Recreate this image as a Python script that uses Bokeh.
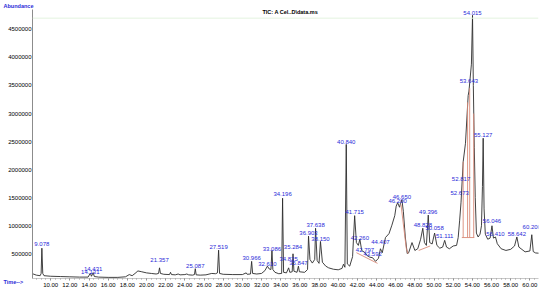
from bokeh.plotting import figure
from bokeh.models import Label, Span, Title, FixedTicker, PrintfTickFormatter, NumeralTickFormatter
from bokeh.core.properties import value
from bokeh.embed import file_html
from bokeh.resources import INLINE

# ---- chromatogram trace (retention time in min, abundance) ----
time_min = [8.10, 8.5, 8.9, 9.0, 9.078, 9.17, 9.3, 10.0, 11.0, 12.0, 13.0, 13.9,
            14.131, 14.25, 14.431, 14.55, 15.0, 16.0, 17.0, 17.8, 18.2, 18.5, 18.8,
            19.1, 19.5, 20.0, 20.5, 21.0, 21.25, 21.357, 21.45, 21.8, 22.4, 22.5,
            22.6, 23.0, 23.3, 23.5, 24.0, 24.2, 24.4, 24.8, 25.0, 25.087, 25.18,
            25.6, 26.2, 26.8, 27.2, 27.4, 27.519, 27.62, 28.0, 29.0, 30.0, 30.4,
            30.5, 30.85, 30.966, 31.07, 31.5, 32.0, 32.35, 32.61, 32.8, 32.98,
            33.086, 33.18, 33.4, 33.8, 34.1, 34.196, 34.3, 34.6, 34.825, 34.95,
            35.2, 35.284, 35.38, 35.7, 35.847, 35.95, 36.5, 36.8, 36.903, 37.05,
            37.3, 37.55, 37.638, 37.8, 38.0, 38.15, 38.35, 38.7, 39.0, 39.5, 40.0,
            40.4, 40.55, 40.7, 40.84, 40.95, 41.2, 41.5, 41.715, 41.9, 42.1, 42.26,
            42.45, 42.797, 43.0, 43.3, 43.592, 43.9, 44.2, 44.407, 44.6, 44.93,
            45.3, 45.6, 45.9, 46.05, 46.2, 46.4, 46.5, 46.65, 46.8, 47.0, 47.2,
            47.35, 47.7, 48.0, 48.3, 48.6, 48.828, 49.0, 49.2, 49.396, 49.55,
            49.8, 50.058, 50.3, 50.6, 50.9, 51.111, 51.3, 51.6, 52.0, 52.35, 52.52,
            52.673, 52.817, 53.04, 53.28, 53.56, 53.643, 53.9, 54.015, 54.1, 54.2,
            54.3, 54.42, 54.6, 54.8, 54.95, 55.05, 55.127, 55.22, 55.35, 55.6,
            55.85, 56.046, 56.2, 56.41, 56.6, 57.0, 57.5, 58.0, 58.4, 58.642,
            58.85, 59.5, 60.0, 60.2, 60.35, 60.6, 61.0]
abundance = [145000, 120000, 110000, 150000, 600000, 150000, 110000, 100000, 95000,
             90000, 85000, 85000, 155000, 100000, 165000, 95000, 85000, 80000, 80000,
             90000, 130000, 110000, 150000, 195000, 180000, 160000, 150000, 140000,
             150000, 250000, 150000, 135000, 130000, 170000, 130000, 125000, 140000,
             125000, 130000, 140000, 125000, 120000, 130000, 235000, 125000, 120000,
             125000, 150000, 145000, 160000, 565000, 150000, 135000, 130000, 130000,
             160000, 135000, 140000, 365000, 150000, 140000, 150000, 200000, 280000,
             230000, 220000, 560000, 220000, 170000, 145000, 150000, 1490000, 170000,
             160000, 250000, 170000, 180000, 500000, 190000, 170000, 280000, 180000,
             170000, 220000, 815000, 400000, 335000, 400000, 955000, 380000, 330000,
             720000, 350000, 280000, 250000, 225000, 215000, 240000, 315000, 260000,
             2450000, 320000, 280000, 450000, 1180000, 700000, 650000, 760000, 560000,
             520000, 470000, 440000, 430000, 365000, 420000, 590000, 520000, 790000,
             860000, 1010000, 1180000, 1350000, 1410000, 1330000, 1400000, 1460000,
             1250000, 800000, 505000, 520000, 700000, 560000, 590000, 760000, 955000,
             700000, 650000, 1190000, 700000, 675000, 870000, 650000, 600000, 620000,
             740000, 620000, 590000, 640000, 650000, 790000, 1100000, 1420000,
             2140000, 2470000, 3320000, 3400000, 3880000, 4750000, 3500000, 2400000,
             1500000, 870000, 800000, 850000, 1000000, 1700000, 2560000, 1300000,
             850000, 760000, 780000, 1000000, 780000, 800000, 680000, 590000, 560000,
             580000, 640000, 800000, 620000, 535000, 550000, 840000, 540000, 515000,
             510000]

# ---- peak annotations (retention-time text, abundance where the text sits) ----
peak_labels = ["9.078", "14.131", "14.431", "21.357", "25.087", "27.519", "30.966",
               "32.610", "33.086", "34.196", "34.825", "35.284", "35.847", "36.903",
               "37.638", "38.150", "40.840", "41.715", "42.260", "42.797", "43.592",
               "44.407", "46.200", "46.650", "48.828", "49.396", "50.058", "51.111",
               "52.673", "52.817", "53.643", "54.015", "55.127", "56.046", "56.410",
               "58.642", "60.200"]
peak_label_abundance = [668000, 179000, 230000, 381000, 280000, 618000, 420000,
                        319000, 589000, 1558000, 410000, 618000, 336000, 871000,
                        1011000, 758000, 2491000, 1237000, 786000, 562000, 500000,
                        702000, 1433000, 1507000, 1006000, 1242000, 955000, 820000,
                        1585000, 1838000, 3588000, 4790000, 2626000, 1090000, 854000,
                        854000, 972000]
peak_label_time = [float(s) for s in peak_labels]

# ---- integration marks (red) ----
red_t0 = [52.9, 53.04, 53.50, 53.72, 54.14, 41.9, 46.55, 47.1, 48.4]
red_a0 = [790000, 790000, 790000, 790000, 790000, 520000, 1380000, 600000, 560000]
red_t1 = [54.2, 53.04, 53.50, 53.72, 54.14, 44.1, 47.1, 47.3, 49.6]
red_a1 = [790000, 2140000, 3200000, 3450000, 3000000, 330000, 600000, 500000, 640000]

x_ticks = [10, 12, 14, 16, 18, 20, 22, 24, 26, 28, 30, 32, 34, 36, 38, 40, 42, 44,
           46, 48, 50, 52, 54, 56, 58, 60]
y_ticks = [500000, 1000000, 1500000, 2000000, 2500000, 3000000, 3500000, 4000000,
           4500000]

FONT = "Liberation Sans"
BLUE = "#2a2ad8"

p = figure(width=540, height=289, x_range=(8.1, 60.9), y_range=(60000, 4854000),
           output_backend="svg", toolbar_location=None,
           min_border_left=32, min_border_right=2, min_border_top=9,
           min_border_bottom=10)
p.background_fill_color = "white"
p.border_fill_color = "white"
p.outline_line_color = None
p.grid.visible = False

# header "Abundance" as the plot title, pushed left over the y-axis labels
p.title.text = "Abundance"
p.title.align = "left"
p.title.offset = -29
p.title.standoff = 0
p.title.vertical_align = "middle"
p.title.text_font = FONT
p.title.text_font_size = "5.5px"
p.title.text_font_style = "bold"
p.title.text_color = BLUE

minor = [8.5 + 0.5 * i for i in range(106)]
p.xaxis.ticker = FixedTicker(ticks=x_ticks, minor_ticks=minor)
p.xaxis.formatter = PrintfTickFormatter(format="%.2f")
p.yaxis.ticker = FixedTicker(ticks=y_ticks, minor_ticks=[])
p.yaxis.formatter = NumeralTickFormatter(format="0")

for ax in (p.xaxis[0], p.yaxis[0]):
    ax.major_label_text_font = FONT
    ax.major_label_text_font_size = "6px"
    ax.major_label_text_color = "black"
    ax.major_tick_line_color = "#8c8c8c"
    ax.minor_tick_line_color = "#9a9a9a"
    ax.major_tick_in = 0
    ax.minor_tick_in = 0
p.xaxis.axis_line_color = "#c8c8c8"
p.xaxis.major_tick_out = 2
p.xaxis.minor_tick_out = 1
p.xaxis.major_label_standoff = 2
p.yaxis.axis_line_color = "#8c8c8c"
p.yaxis.major_tick_out = 0
p.yaxis.minor_tick_out = 0
p.yaxis.major_label_standoff = 1

# "Time-->" footer, pulled up into the tick-label row
time_title = Title(text="Time-->", align="left", offset=-29, standoff=-22,
                   vertical_align="top", text_font=FONT, text_font_size="5.5px",
                   text_font_style="bold", text_color=BLUE)
p.add_layout(time_title, "below")

p.add_layout(Span(location=4700000, dimension="width", line_color="#e3f3df", line_width=1))

p.line(time_min, abundance, line_color="#2d2d2d", line_width=0.9)
p.segment(red_t0, red_a0, red_t1, red_a1, line_color="#d98a78", line_width=0.9)

p.text(x=peak_label_time, y=peak_label_abundance, text=peak_labels,
       text_font=value(FONT), text_font_size="6px", text_color=BLUE,
       text_align="center", text_baseline="middle")

p.add_layout(Label(x=35.0, y=4815000, text="TIC: A Cel..D\\data.ms",
                   text_font=FONT, text_font_size="5.5px", text_font_style="bold",
                   text_color="black", text_align="center", text_baseline="middle"))

open("out.html", "w").write(file_html(p, INLINE))
